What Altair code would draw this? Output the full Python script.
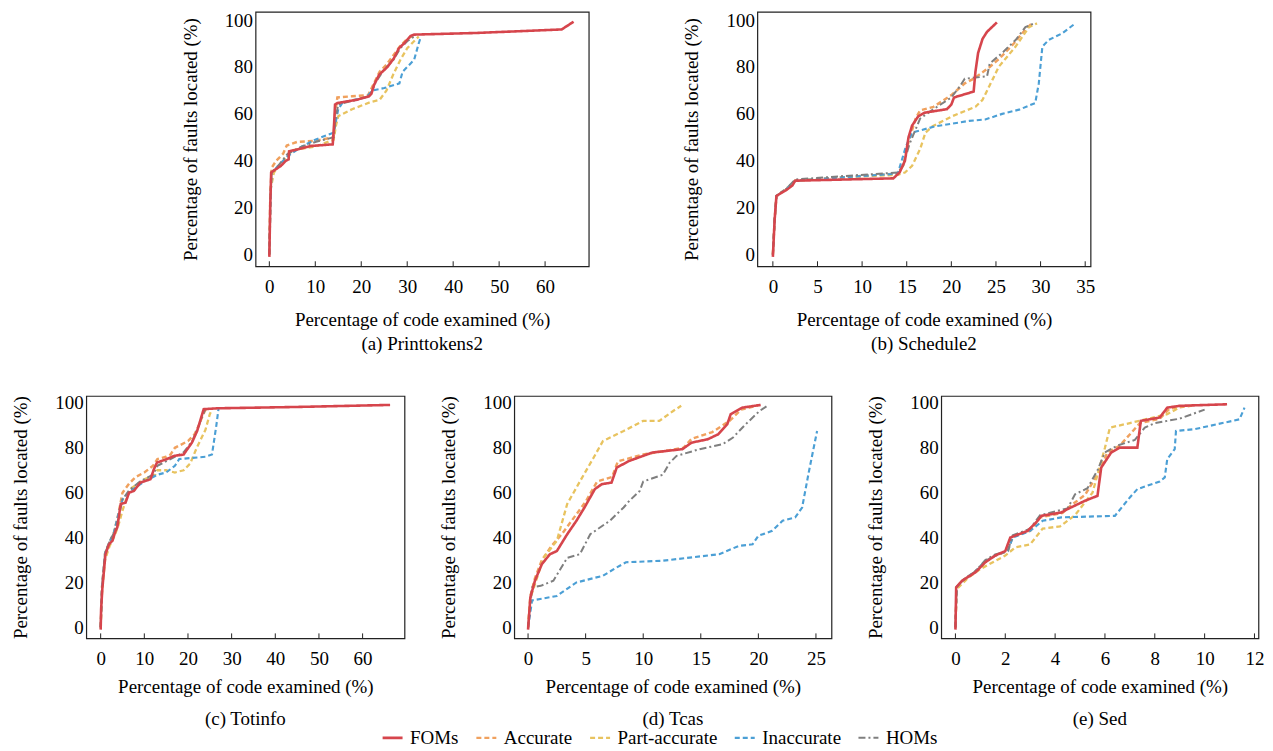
import altair as alt
import pandas as pd

SERIES = ["FOMs", "Accurate", "Part-accurate", "Inaccurate", "HOMs"]
COLORS = ["#d6454c", "#f0a15e", "#e8c35f", "#4b9fd5", "#7f7f7f"]
DASHES = [[1, 0], [5, 3], [5, 3], [5, 3], [7, 3, 2, 3]]
WIDTHS = [2.6, 2.0, 2.0, 2.0, 2.0]
FONT = "Liberation Serif"
FS = 19

Y_TICKS = [0, 20, 40, 60, 80, 100]
X_TITLE = "Percentage of code examined (%)"
Y_TITLE = "Percentage of faults located (%)"

# ---------------- (a) Printtokens2 ----------------
A_FOMS_X = [0, 0.1, 0.2, 0.4, 1.5, 2.5, 3.6, 4.2, 4.3, 6, 9, 13.8, 14.1, 14.3, 14.8, 19, 21.7, 22.2, 22.8, 23.9, 25.7, 27.1, 28.2, 29.3, 30.7, 31.5, 45, 63.6, 66.2]
A_FOMS_Y = [-1, 10, 21, 35, 36.5, 37.8, 40, 40.6, 44, 44.8, 46.3, 47, 56, 64, 64.6, 66, 67.5, 68.5, 72.4, 76.7, 80, 83.7, 88, 90, 93.2, 93.8, 94.5, 96, 99.3]
A_ACC_X = [0, 0.2, 0.5, 1.5, 3, 3.8, 6, 10, 14, 14.3, 14.8, 18, 21.5, 22.5, 24, 25.5, 27, 28.5, 30, 31.5]
A_ACC_Y = [0, 25, 37, 40, 43, 46.5, 48, 48.5, 50, 60, 67, 67.5, 68, 72, 78, 81, 85, 89, 92, 93.5]
A_PART_X = [0, 0.3, 1, 3, 5, 10, 14, 14.5, 15, 18, 22, 24, 25.5, 27, 28.5, 30, 32.5]
A_PART_Y = [0, 28, 35, 40, 44.5, 46, 49, 55, 59, 62, 65, 66, 70, 77, 83, 88, 93]
A_INACC_X = [0, 0.3, 0.5, 2, 4, 7, 10, 14, 14.6, 15, 16, 21, 22.5, 25, 28.3, 29, 30, 31.5, 32.5, 33]
A_INACC_Y = [0, 25, 35, 38, 42, 46, 49, 52, 58, 62, 65, 67, 70, 71, 73, 78, 80, 83, 90, 93]
A_HOMS_X = [0, 0.2, 0.5, 2, 4, 7, 10, 14, 14.4, 15, 19, 22, 23, 25, 27, 28.5, 30, 31.5]
A_HOMS_Y = [0, 22, 35, 38, 43, 46, 48, 50, 58, 64, 66, 68, 73, 79, 83, 88, 91, 93]

# ---------------- (b) Schedule2 ----------------
B_FOMS_X = [0, 0.2, 0.4, 1.5, 2.2, 2.5, 8, 13.5, 14.2, 14.8, 15.2, 15.6, 16.3, 17, 19.5, 20, 20.3, 22.5, 22.7, 23, 23.5, 24, 25.1]
B_FOMS_Y = [-1, 15, 25, 27.5, 29.5, 31.5, 32, 32.5, 35, 40, 50, 55, 59, 60.5, 62, 64, 67, 69.5, 78, 86, 92, 95, 99]
B_ACC_X = [0, 0.2, 0.4, 1.5, 2.5, 8, 14, 14.6, 15.2, 16, 16.5, 18, 20, 21.5, 22.5, 24.3, 25.5, 27, 28.3, 29]
B_ACC_Y = [0, 15, 25, 28, 31.5, 33, 34.5, 38, 48, 58, 61.5, 63, 68, 73, 75, 80, 84, 90, 96, 98.5]
B_PART_X = [0, 0.2, 0.4, 1.5, 2.5, 8, 14, 14.8, 15.6, 16.5, 17.1, 17.9, 20.1, 22.7, 23.5, 24.6, 25.3, 27.2, 28.7, 29.6]
B_PART_Y = [0, 15, 25, 28, 31.5, 33, 34, 35, 37.8, 45, 52, 54.7, 59, 63, 66, 74.5, 80, 88.7, 97, 98.6]
B_INACC_X = [0, 0.2, 0.4, 1.5, 2.5, 8, 14, 14.9, 15.6, 18.2, 22, 23.8, 25.7, 27.6, 29.4, 29.8, 30.2, 30.9, 32.4, 33.9]
B_INACC_Y = [0, 15, 25, 28, 31.5, 33, 34.5, 46, 52, 54.7, 57, 57.6, 60, 61.8, 64.6, 73, 88.7, 91.5, 94.3, 98.6]
B_HOMS_X = [0, 0.2, 0.4, 1.5, 2.5, 8, 14, 14.6, 15.3, 16.5, 18, 20, 21, 21.5, 24, 24.3, 25.7, 27.2, 28.3, 29.2]
B_HOMS_Y = [0, 15, 25, 28, 32, 33.5, 35, 38, 47, 58, 62, 67, 72, 75, 76, 81.5, 86, 91.5, 97, 98.5]

# ---------------- (c) Totinfo ----------------
C_FOMS_X = [0, 0.1, 0.4, 1.1, 1.9, 2.7, 3.4, 3.8, 4.6, 5.7, 6.5, 7.6, 9.1, 11.4, 12.2, 12.9, 15.2, 16.8, 19, 20.9, 22.1, 23.6, 26.7, 45, 66.3]
C_FOMS_Y = [-1, 8, 17.8, 32.6, 37, 38.6, 43, 44.5, 55, 55.6, 60, 60.8, 64.5, 66, 70.5, 73.4, 75, 76.4, 77, 82.3, 87.5, 97.2, 97.6, 98.2, 99.1]
C_ACC_X = [0, 0.3, 1, 2, 3, 4, 5, 6.5, 8, 10, 12, 13, 15, 16, 17, 20, 21.5, 22.5, 23.5, 24.2]
C_ACC_Y = [0, 18, 33, 38, 42, 50, 60, 64, 67, 69, 72, 75, 76, 77, 80, 83, 86, 90, 95, 97.5]
C_PART_X = [0, 0.3, 1, 2, 3, 4, 5, 6, 7, 10, 12.5, 13, 15, 17, 19, 20.5, 22, 24, 25, 25.6]
C_PART_Y = [0, 15, 30, 36, 40, 45, 52, 58, 62, 66, 68, 70, 70, 69, 70, 73, 80, 88, 95, 97.5]
C_INACC_X = [0, 0.3, 1, 2, 3, 4, 5, 7, 10, 13, 15, 17, 18, 21, 24, 25.5, 26.5, 27]
C_INACC_Y = [0, 18, 33, 38, 42, 50, 57, 61, 65, 68, 69, 72, 75, 75.5, 76, 77, 90, 97.5]
C_HOMS_X = [0, 0.3, 1, 2, 3, 4, 5, 6.5, 9, 12, 13, 16, 19, 21, 22.5, 23.5, 24]
C_HOMS_Y = [0, 18, 33, 38, 42, 48, 57, 61, 65, 68, 72, 75, 78, 83, 90, 95, 97.5]

# ---------------- (d) Tcas ----------------
D_FOMS_X = [0, 0.2, 0.6, 1.2, 1.9, 2.5, 3.4, 4.2, 4.9, 5.8, 6.4, 7.25, 7.7, 8.8, 10.8, 13.4, 14.2, 15.6, 16.5, 17.3, 17.6, 18.6, 20.2]
D_FOMS_Y = [-1, 13.4, 20.8, 28.2, 32.6, 34, 41.5, 47.5, 53.4, 61.6, 63.8, 64.5, 71.2, 74.2, 77.9, 79.4, 82.3, 83.8, 86, 90.5, 95, 97.9, 99.1]
D_ACC_X = [0, 0.2, 0.6, 1.2, 2, 3, 4, 5, 6, 7.3, 7.8, 10, 13.5, 14.2, 16, 17.5, 18.5, 20]
D_ACC_Y = [0, 14, 22, 30, 36, 42, 49, 56, 65, 67, 74, 77, 80, 84, 87, 92, 97, 99]
D_PART_X = [0, 0.2, 1.35, 2.5, 3.4, 4.5, 5.7, 6.5, 8.3, 10, 11.4, 12.6, 13.3]
D_PART_Y = [0, 13, 31, 38.6, 55, 65, 75.7, 83, 87.5, 92, 92, 96.4, 98.7]
D_INACC_X = [0, 0.35, 2.5, 4.2, 6.5, 7.7, 8.5, 11.7, 16.6, 18.3, 19.5, 20, 21.2, 22.1, 23.2, 23.8, 24.4, 25.1]
D_INACC_Y = [0, 12, 14, 20, 23, 26.7, 29, 29.7, 32.6, 36.3, 37, 40.8, 43, 47.5, 49, 53.4, 69.7, 87.5]
D_HOMS_X = [0, 0.35, 1.1, 2.2, 3.4, 4.5, 5.4, 7.1, 8.3, 8.8, 9.7, 10, 11.7, 12.3, 12.9, 14.9, 16.9, 17.8, 18.9, 20.1, 20.9]
D_HOMS_Y = [0, 17.8, 18.5, 20.8, 31, 32.6, 41.5, 47.5, 53.4, 56.4, 60.8, 65, 68, 73.4, 76.4, 79.4, 81.6, 84.6, 90.5, 96.4, 99.1]

# ---------------- (e) Sed ----------------
E_FOMS_X = [0, 0.03, 0.27, 0.8, 1.2, 1.6, 2.0, 2.2, 2.9, 3.3, 3.45, 4.25, 4.5, 5.2, 5.7, 5.85, 6.25, 6.6, 7.3, 7.44, 8.2, 8.5, 9, 10.9]
E_FOMS_Y = [-1, 17.8, 20.8, 24.5, 29, 32, 34, 40, 43, 47.5, 49.7, 51.2, 52.7, 56.4, 58.6, 71.2, 77.9, 80.1, 80.1, 92, 93.5, 97.9, 98.7, 99.4]
E_ACC_X = [0, 0.05, 0.3, 0.8, 1.2, 1.6, 2.1, 2.3, 3, 3.4, 4.3, 4.6, 5.2, 5.8, 6.1, 6.6, 7.4, 8.2, 8.6, 9.5]
E_ACC_Y = [0, 18, 21, 25, 29.5, 32, 34, 40.5, 43, 49, 51, 54, 59, 70, 78, 81, 91, 93, 97.5, 98.8]
E_PART_X = [0, 0.05, 0.5, 1, 2, 2.4, 3, 3.5, 4.2, 4.8, 5.5, 6, 6.2, 7, 8.5, 9]
E_PART_Y = [0, 17, 22, 26, 32, 35.6, 37, 44, 45, 50, 60, 80, 89, 91, 95, 98]
E_INACC_X = [0, 0.05, 0.3, 0.8, 1.2, 1.6, 2.1, 2.3, 3, 3.5, 4.25, 6.4, 7.0, 7.3, 8.2, 8.4, 8.5, 8.8, 8.85, 9.6, 11.4, 11.6]
E_INACC_Y = [0, 18, 21, 25, 29.5, 32, 34, 40, 43, 47.5, 49, 49.7, 57.9, 61.6, 65, 66.8, 75, 79.4, 87.5, 88.3, 92.7, 97.9]
E_HOMS_X = [0, 0.05, 0.3, 0.8, 1.2, 1.6, 2.1, 2.3, 3, 3.4, 4.5, 4.8, 5.3, 5.7, 6, 6.5, 7.2, 7.6, 8, 9, 10]
E_HOMS_Y = [0, 18, 21, 25, 30, 32.5, 34, 41, 44, 50, 53, 59.3, 62, 70, 78, 81, 83.5, 89, 91, 93, 97]

A_XTICKS = [0, 10, 20, 30, 40, 50, 60]
B_XTICKS = [0, 5, 10, 15, 20, 25, 30, 35]
C_XTICKS = [0, 10, 20, 30, 40, 50, 60]
D_XTICKS = [0, 5, 10, 15, 20, 25]
E_XTICKS = [0, 2, 4, 6, 8, 10, 12]


def make_df(series_xy):
    rows = []
    for name, (xs, ys) in zip(SERIES, series_xy):
        for i, (x, y) in enumerate(zip(xs, ys)):
            rows.append({"series": name, "x": x, "y": y, "i": i})
    return pd.DataFrame(rows)


def panel(series_xy, xdom, xticks, w, h, ydom, caption, lab_pad, ttl_pad, cap_off):
    df = make_df(series_xy)
    xs = alt.Scale(domain=xdom, nice=False, zero=False)
    ys = alt.Scale(domain=ydom, nice=False, zero=False)
    xaxis = alt.Axis(values=xticks, ticks=False, domain=False, grid=False,
                     labelPadding=lab_pad, title=X_TITLE, titlePadding=ttl_pad,
                     labelFlush=False)
    yaxis = alt.Axis(values=Y_TICKS, ticks=False, domain=False, grid=False,
                     labelPadding=3, title=Y_TITLE, titlePadding=24)
    leg = alt.Legend(orient="none", legendX=296, legendY=716, direction="horizontal",
                     columns=5, title=None, symbolType="stroke", symbolSize=400,
                     symbolStrokeWidth=2.5, labelFont=FONT, labelFontSize=FS,
                     labelColor="black", columnPadding=12, labelOffset=6)
    enc = dict(
        x=alt.X("x:Q", scale=xs, axis=xaxis),
        y=alt.Y("y:Q", scale=ys, axis=yaxis),
        color=alt.Color("series:N", scale=alt.Scale(domain=SERIES, range=COLORS), legend=leg),
        strokeDash=alt.StrokeDash("series:N", scale=alt.Scale(domain=SERIES, range=DASHES), legend=leg),
        strokeWidth=alt.StrokeWidth("series:N", scale=alt.Scale(domain=SERIES, range=WIDTHS), legend=None),
        order=alt.Order("i:Q"),
    )
    base = alt.Chart(df)
    others = base.transform_filter(alt.datum.series != "FOMs").mark_line(clip=True).encode(**enc)
    foms = base.transform_filter(alt.datum.series == "FOMs").mark_line(clip=True).encode(**enc)
    tk = alt.Chart(pd.DataFrame({"x": xticks})).mark_rule(color="#222", strokeWidth=1).encode(
        x=alt.X("x:Q", scale=xs, axis=xaxis), y=alt.value(h), y2=alt.value(h - 5))
    return alt.layer(others, foms, tk).properties(
        width=w, height=h,
        title=alt.TitleParams(caption, orient="bottom", font=FONT, fontSize=FS,
                              fontWeight="normal", color="black", offset=cap_off))


TOP_Y = [-5, 103.5]
BOT_Y = [-4.9, 103.1]

pa = panel([(A_FOMS_X, A_FOMS_Y), (A_ACC_X, A_ACC_Y), (A_PART_X, A_PART_Y), (A_INACC_X, A_INACC_Y), (A_HOMS_X, A_HOMS_Y)],
           [-3, 69.5], A_XTICKS, 334, 255, TOP_Y, "(a) Printtokens2", 11, 14, 6)
pb = panel([(B_FOMS_X, B_FOMS_Y), (B_ACC_X, B_ACC_Y), (B_PART_X, B_PART_Y), (B_INACC_X, B_INACC_Y), (B_HOMS_X, B_HOMS_Y)],
           [-1.74, 35.6], B_XTICKS, 334, 255, TOP_Y, "(b) Schedule2", 11, 14, 6)
pc = panel([(C_FOMS_X, C_FOMS_Y), (C_ACC_X, C_ACC_Y), (C_PART_X, C_PART_Y), (C_INACC_X, C_INACC_Y), (C_HOMS_X, C_HOMS_Y)],
           [-3.3, 69.6], C_XTICKS, 319, 243, BOT_Y, "(c) Totinfo", 11, 9, 14)
pd_ = panel([(D_FOMS_X, D_FOMS_Y), (D_ACC_X, D_ACC_Y), (D_PART_X, D_PART_Y), (D_INACC_X, D_INACC_Y), (D_HOMS_X, D_HOMS_Y)],
            [-1.2, 26.35], D_XTICKS, 318, 243, BOT_Y, "(d) Tcas", 11, 9, 14)
pe = panel([(E_FOMS_X, E_FOMS_Y), (E_ACC_X, E_ACC_Y), (E_PART_X, E_PART_Y), (E_INACC_X, E_INACC_Y), (E_HOMS_X, E_HOMS_Y)],
           [-0.57, 12.16], E_XTICKS, 318, 243, BOT_Y, "(e) Sed", 11, 9, 14)

top = alt.hconcat(pa, pb, spacing=92)
bottom = alt.hconcat(pc, pd_, pe, spacing=33)

chart = alt.vconcat(top, bottom, spacing=38, center=True).properties(
    padding={"left": 3, "top": 1, "right": 0, "bottom": 0},
    background="white",
).configure_view(stroke="#222", strokeWidth=1.2).configure_axis(
    labelFont=FONT, labelFontSize=FS, labelColor="black",
    titleFont=FONT, titleFontSize=FS, titleColor="black", titleFontWeight="normal"
)

chart.save("out.html", embed_options={"renderer": "svg", "actions": False})
